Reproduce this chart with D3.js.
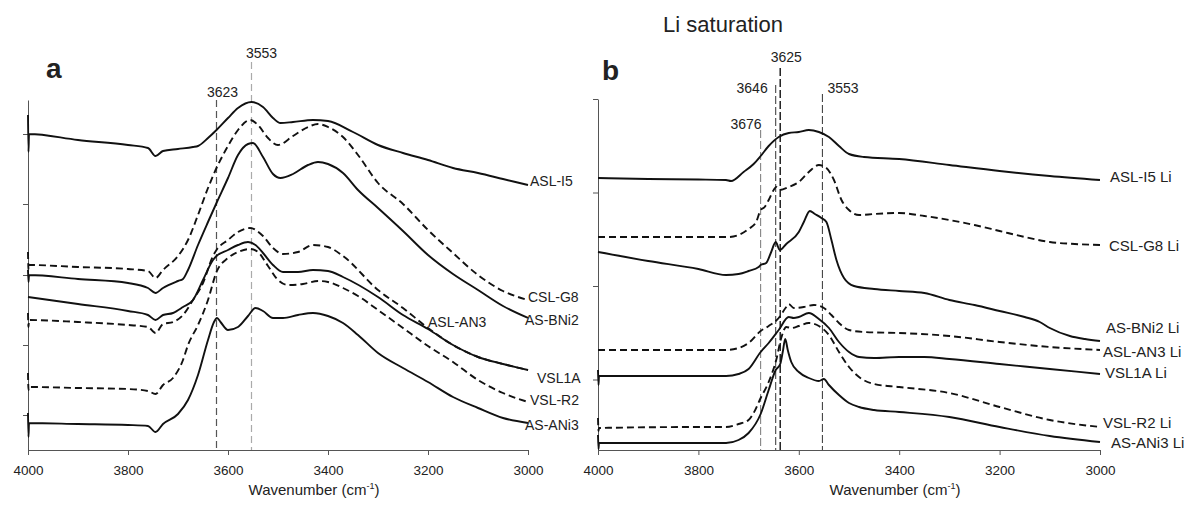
<!DOCTYPE html>
<html><head><meta charset="utf-8">
<script src="https://cdn.jsdelivr.net/npm/d3@7"></script>
<style>
body{margin:0;background:#fff}
svg{display:block}
text{font-family:Arial,"Liberation Sans",Helvetica,sans-serif;fill:#222}
</style>
</head><body>
<svg id="c" width="1189" height="505"></svg>
<script>
// ---------- DATA ----------
const xTickValues = [4000, 3800, 3600, 3400, 3200, 3000];
const xTickLabels = ["4000", "3800", "3600", "3400", "3200", "3000"];
const yTicksA = [0.35, 1.05, 1.75, 2.46, 3.16];
const yTicksB = [0.705, 1.64, 2.575, 3.51];

const peaksA = [3623, 3553];
const peakLabelsA = ["3623", "3553"];
const peaksB = [3676, 3646, 3637, 3553];
const peakLabelsB = ["3676", "3646", "3625", "3553"];

const namesA = ["ASL-I5", "CSL-G8", "AS-BNi2", "ASL-AN3", "VSL1A", "VSL-R2", "AS-ANi3"];
const namesB = ["ASL-I5 Li", "CSL-G8 Li", "AS-BNi2 Li", "ASL-AN3 Li", "VSL1A Li", "VSL-R2 Li", "AS-ANi3 Li"];
const dashedA = [false, true, false, true, false, true, false];
const dashedB = [false, true, false, true, false, true, false];

// panel a spectra: [wavenumber, absorbance (offset, a.u.)]
const a_ASL_I5 = [[4000,3.35],[3999,2.98],[3998,3.16],[3900,3.10],[3800,3.05],[3760,3.02],[3745,2.94],[3730,2.99],[3700,3.01],[3670,3.03],[3660,3.04],[3640,3.12],[3623,3.20],[3600,3.32],[3580,3.42],[3553,3.48],[3530,3.43],[3510,3.32],[3495,3.27],[3470,3.28],[3430,3.30],[3400,3.29],[3350,3.18],[3300,3.05],[3250,2.97],[3200,2.90],[3150,2.82],[3100,2.77],[3050,2.71],[3000,2.65]];
const a_CSL_G8 = [[4000,1.98],[3999,1.80],[3998,1.85],[3900,1.83],[3800,1.81],[3760,1.79],[3745,1.72],[3730,1.80],[3700,1.94],[3680,2.10],[3660,2.35],[3640,2.62],[3623,2.82],[3600,3.04],[3580,3.20],[3556,3.30],[3540,3.25],[3520,3.12],[3500,3.05],[3470,3.14],[3440,3.23],[3420,3.26],[3400,3.23],[3370,3.13],[3340,2.95],[3300,2.67],[3250,2.46],[3200,2.20],[3150,1.97],[3100,1.75],[3050,1.59],[3000,1.50]];
const a_AS_BNi2 = [[4000,1.80],[3999,1.68],[3998,1.75],[3900,1.71],[3800,1.67],[3760,1.62],[3745,1.57],[3730,1.62],[3700,1.69],[3690,1.71],[3680,1.80],[3660,2.05],[3640,2.28],[3623,2.47],[3600,2.72],[3580,2.95],[3560,3.06],[3550,3.07],[3530,2.93],[3510,2.76],[3495,2.72],[3470,2.76],[3440,2.85],[3420,2.88],[3400,2.86],[3370,2.77],[3340,2.60],[3300,2.42],[3250,2.19],[3200,1.95],[3150,1.76],[3100,1.60],[3050,1.44],[3000,1.32]];
const a_ASL_AN3 = [[4000,1.37],[3999,1.23],[3998,1.30],[3900,1.28],[3800,1.25],[3760,1.23],[3745,1.17],[3730,1.26],[3710,1.28],[3690,1.35],[3670,1.50],[3650,1.67],[3630,1.94],[3623,2.00],[3600,2.10],[3580,2.18],[3556,2.22],[3530,2.14],[3510,2.02],[3490,1.96],[3460,1.98],[3430,2.05],[3400,2.03],[3370,1.94],[3300,1.60],[3250,1.42],[3200,1.22],[3150,1.05],[3100,0.93],[3050,0.86],[3000,0.80]];
const a_VSL1A = [[4000,1.53],[3900,1.46],[3800,1.39],[3760,1.35],[3745,1.30],[3730,1.35],[3710,1.37],[3690,1.43],[3670,1.50],[3650,1.70],[3630,1.90],[3623,1.94],[3600,2.00],[3580,2.05],[3560,2.08],[3545,2.05],[3530,1.97],[3510,1.85],[3490,1.78],[3460,1.78],[3430,1.80],[3400,1.79],[3370,1.73],[3300,1.53],[3250,1.35],[3200,1.21],[3150,1.05],[3100,0.93],[3050,0.86],[3000,0.80]];
const a_VSL_R2 = [[4000,0.77],[3999,0.60],[3998,0.63],[3900,0.62],[3800,0.61],[3760,0.59],[3745,0.56],[3730,0.65],[3710,0.72],[3690,0.90],[3680,1.05],[3660,1.25],[3640,1.50],[3623,1.78],[3600,1.92],[3580,1.98],[3556,2.01],[3540,1.98],[3520,1.84],[3500,1.70],[3480,1.65],[3450,1.66],[3420,1.69],[3400,1.68],[3370,1.62],[3340,1.54],[3300,1.40],[3250,1.22],[3200,1.04],[3150,0.88],[3100,0.70],[3050,0.57],[3000,0.48]];
const a_AS_ANi3 = [[4000,0.37],[3999,0.13],[3998,0.27],[3900,0.26],[3800,0.25],[3760,0.24],[3745,0.18],[3730,0.26],[3700,0.36],[3680,0.50],[3660,0.75],[3640,1.10],[3628,1.28],[3622,1.32],[3615,1.28],[3600,1.20],[3580,1.23],[3560,1.34],[3545,1.42],[3530,1.39],[3510,1.32],[3490,1.32],[3460,1.35],[3430,1.37],[3400,1.34],[3370,1.27],[3340,1.15],[3300,0.97],[3250,0.82],[3200,0.68],[3150,0.53],[3100,0.42],[3050,0.32],[3000,0.27]];

// panel b spectra (Li saturated)
const b_ASL_I5 = [[4000,2.72],[3900,2.71],[3800,2.705],[3745,2.70],[3735,2.69],[3710,2.78],[3690,2.86],[3676,2.94],[3660,3.04],[3640,3.13],[3620,3.17],[3600,3.18],[3580,3.20],[3560,3.18],[3540,3.13],[3520,3.04],[3500,2.96],[3470,2.93],[3400,2.91],[3300,2.85],[3200,2.79],[3100,2.74],[3000,2.70]];
const b_CSL_G8 = [[4000,2.13],[3900,2.13],[3800,2.13],[3740,2.13],[3720,2.15],[3700,2.21],[3685,2.28],[3676,2.40],[3668,2.43],[3660,2.50],[3650,2.60],[3645,2.63],[3638,2.60],[3620,2.63],[3600,2.68],[3580,2.78],[3560,2.85],[3545,2.82],[3530,2.70],[3515,2.50],[3500,2.40],[3480,2.35],[3450,2.36],[3400,2.37],[3350,2.34],[3300,2.30],[3250,2.25],[3200,2.19],[3150,2.13],[3100,2.08],[3050,2.06],[3000,2.05]];
const b_AS_BNi2 = [[4000,1.98],[3900,1.89],[3800,1.81],[3745,1.75],[3720,1.76],[3700,1.79],[3680,1.83],[3676,1.85],[3665,1.87],[3655,1.98],[3646,2.08],[3638,2.00],[3625,2.06],[3600,2.18],[3590,2.28],[3578,2.39],[3568,2.36],[3555,2.32],[3545,2.28],[3535,2.10],[3525,1.90],[3510,1.72],[3490,1.64],[3450,1.61],[3400,1.59],[3350,1.57],[3300,1.50],[3250,1.45],[3200,1.39],[3150,1.33],[3120,1.28],[3100,1.22],[3060,1.14],[3030,1.11],[3000,1.09]];
const b_ASL_AN3 = [[4000,1.00],[3800,1.00],[3745,1.00],[3720,1.02],[3700,1.07],[3676,1.19],[3660,1.24],[3640,1.32],[3625,1.43],[3620,1.46],[3610,1.42],[3590,1.43],[3570,1.45],[3550,1.42],[3535,1.35],[3520,1.27],[3500,1.20],[3470,1.18],[3400,1.17],[3300,1.14],[3200,1.08],[3100,1.03],[3000,1.00]];
const b_VSL1A = [[4000,0.80],[3999,0.65],[3998,0.74],[3800,0.74],[3745,0.74],[3720,0.76],[3700,0.81],[3676,0.98],[3660,1.07],[3640,1.20],[3620,1.33],[3610,1.32],[3600,1.33],[3580,1.37],[3560,1.31],[3540,1.22],[3520,1.08],[3500,0.98],[3480,0.93],[3450,0.92],[3400,0.93],[3350,0.93],[3300,0.91],[3200,0.86],[3100,0.81],[3000,0.76]];
const b_VSL_R2 = [[4000,0.32],[3999,0.19],[3998,0.22],[3800,0.23],[3745,0.23],[3720,0.26],[3700,0.30],[3690,0.37],[3676,0.52],[3660,0.68],[3645,0.90],[3635,1.12],[3625,1.23],[3615,1.22],[3600,1.24],[3580,1.27],[3560,1.24],[3540,1.15],[3520,0.98],[3500,0.83],[3480,0.73],[3450,0.66],[3400,0.63],[3300,0.57],[3200,0.43],[3100,0.30],[3000,0.23]];
const b_AS_ANi3 = [[4000,0.15],[3999,0.01],[3998,0.07],[3800,0.07],[3745,0.07],[3720,0.10],[3700,0.17],[3676,0.36],[3660,0.60],[3646,0.80],[3637,0.86],[3632,0.98],[3627,1.11],[3622,1.00],[3615,0.88],[3600,0.78],[3580,0.72],[3560,0.69],[3550,0.71],[3540,0.65],[3520,0.55],[3500,0.47],[3480,0.43],[3450,0.40],[3400,0.38],[3300,0.33],[3200,0.23],[3100,0.14],[3000,0.08]];

const seriesA = [a_ASL_I5, a_CSL_G8, a_AS_BNi2, a_ASL_AN3, a_VSL1A, a_VSL_R2, a_AS_ANi3];
const seriesB = [b_ASL_I5, b_CSL_G8, b_AS_BNi2, b_ASL_AN3, b_VSL1A, b_VSL_R2, b_AS_ANi3];

// ---------- DRAW ----------
const svg = d3.select("#c");
const axisColor = "#555";

function panel(cfg) {
  const x = d3.scaleLinear().domain([4000, 3000]).range(cfg.xr);
  const y = d3.scaleLinear().domain(cfg.yd).range([450, cfg.ytop]);
  const g = svg.append("g");

  // marker lines
  cfg.peaks.forEach((p, i) => {
    const m = cfg.markerStyle[i];
    g.append("line").attr("x1", x(p)).attr("x2", x(p))
      .attr("y1", m.top).attr("y2", 450)
      .attr("stroke", m.color).attr("stroke-width", m.w)
      .attr("stroke-dasharray", m.dash);
    g.append("text").attr("x", x(p) + m.dx).attr("y", m.ty)
      .attr("text-anchor", m.anchor).attr("font-size", 14)
      .attr("fill", "#333").text(cfg.peakLabels[i]);
  });

  // x axis
  const xa = g.append("g").attr("transform", "translate(0,450)")
    .call(d3.axisBottom(x).tickValues(xTickValues)
      .tickFormat((d, i) => xTickLabels[i]).tickSize(5).tickSizeOuter(0));
  xa.select(".domain").attr("stroke", axisColor);
  xa.selectAll(".tick line").attr("stroke", axisColor);
  xa.selectAll(".tick text").attr("font-size", 13.5).attr("dy", "0").attr("y", 25)
    .attr("font-family", "Arial, 'Liberation Sans', sans-serif").attr("fill", "#222");

  // y axis
  const ya = g.append("g").attr("transform", `translate(${cfg.xr[0]},0)`)
    .call(d3.axisLeft(y).tickValues(cfg.yticks).tickFormat("").tickSize(5).tickSizeOuter(0));
  ya.select(".domain").attr("stroke", axisColor);
  ya.selectAll(".tick line").attr("stroke", axisColor);

  // spectra
  const line = d3.line().x(d => x(d[0])).y(d => y(d[1])).curve(d3.curveMonotoneX);
  cfg.series.forEach((s, i) => {
    g.append("path").datum(s).attr("d", line)
      .attr("fill", "none").attr("stroke", "#111").attr("stroke-width", 1.9)
      .attr("stroke-linejoin", "round")
      .attr("stroke-dasharray", cfg.dashed[i] ? "7,4" : null);
  });

  // series labels
  cfg.names.forEach((n, i) => {
    const L = cfg.labelPos[i];
    g.append("text").attr("x", L[0]).attr("y", L[1]).attr("font-size", cfg.labelSize).text(n);
  });

  // axis title
  const t = g.append("text").attr("x", cfg.titleX).attr("y", 495)
    .attr("text-anchor", "middle").attr("font-size", 15);
  t.append("tspan").text("Wavenumber (cm");
  t.append("tspan").attr("font-size", 9).attr("dy", -6).text("-1");
  t.append("tspan").attr("dy", 6).text(")");

  // panel letter
  g.append("text").attr("x", cfg.letterPos[0]).attr("y", cfg.letterPos[1])
    .attr("font-size", 28).attr("font-weight", "bold").attr("fill", "#111").text(cfg.letter);
}

panel({
  xr: [28, 528], yd: [0, 3.5], ytop: 100, yticks: yTicksA,
  peaks: peaksA, peakLabels: peakLabelsA,
  markerStyle: [
    {top: 100, color: "#555", w: 1.2, dash: "7,4", dx: 6, ty: 97, anchor: "middle"},
    {top: 62, color: "#aaa", w: 1.2, dash: "7,4", dx: 10, ty: 58, anchor: "middle"}
  ],
  series: seriesA, dashed: dashedA, names: namesA, labelSize: 14,
  labelPos: [[530, 186], [528, 302], [525, 325], [428, 327], [537, 383], [530, 405], [525, 430]],
  titleX: 314, letter: "a", letterPos: [46, 78]
});

panel({
  xr: [598, 1100], yd: [0, 3.51], ytop: 99, yticks: yTicksB,
  peaks: peaksB, peakLabels: peakLabelsB,
  markerStyle: [
    {top: 130, color: "#777", w: 1, dash: "8,3", dx: 1, ty: 129, anchor: "end"},
    {top: 85, color: "#333", w: 1, dash: "8,3", dx: -8, ty: 93, anchor: "end"},
    {top: 68, color: "#222", w: 1.5, dash: "8,3", dx: 6, ty: 62, anchor: "middle"},
    {top: 94, color: "#333", w: 1, dash: "8,3", dx: 5, ty: 93, anchor: "start"}
  ],
  series: seriesB, dashed: dashedB, names: namesB, labelSize: 15,
  labelPos: [[1110, 182], [1109, 251], [1106, 333], [1103, 357], [1105, 378], [1103, 428], [1111, 448]],
  titleX: 895, letter: "b", letterPos: [602, 80]
});

svg.append("text").attr("x", 723).attr("y", 32).attr("text-anchor", "middle")
  .attr("font-size", 22).attr("fill", "#222").text("Li saturation");
</script>
</body></html>
